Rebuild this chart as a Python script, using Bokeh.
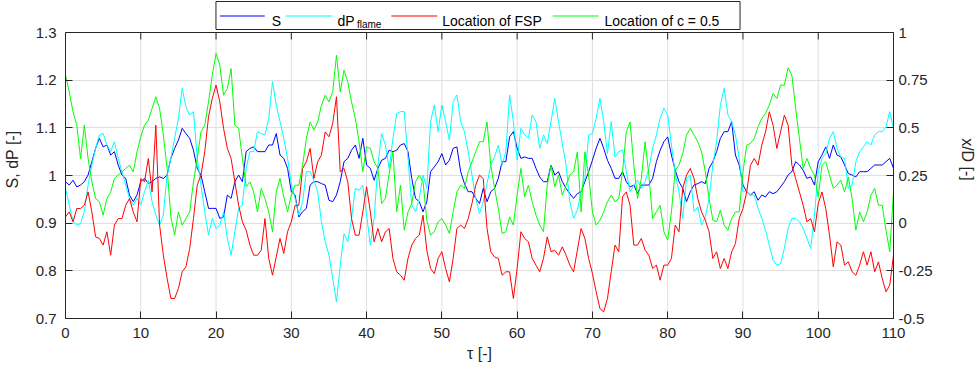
from bokeh.plotting import figure
from bokeh.models import (Range1d, LinearAxis, FixedTicker, CustomJSTickFormatter)
from bokeh.embed import file_html
from bokeh.resources import INLINE
from bokeh.core.properties import value

# ---------------- data ----------------
tau = [i * 0.5 for i in range(221)]  # tau = 0 ... 110, step 0.5

S = [0.987, 0.980, 0.990, 0.976, 0.980, 0.987, 1.001, 1.029, 1.057, 1.078,
     1.060, 1.064, 1.043, 1.050, 1.022, 1.001, 0.994, 0.959, 0.945, 0.959,
     0.987, 0.994, 0.983, 0.987, 0.994, 0.997, 0.994, 1.001, 1.036, 1.057,
     1.074, 1.099, 1.088, 1.078, 1.053, 1.015, 1.001, 0.966, 0.931, 0.931,
     0.931, 0.910, 0.913, 0.959, 0.952, 0.987, 1.001, 0.987, 1.050, 1.057,
     1.060, 1.050, 1.050, 1.050, 1.064, 1.064, 1.088, 1.043, 1.036, 1.015,
     0.966, 0.959, 0.913, 0.924, 0.931, 0.980, 0.987, 0.987, 0.983, 0.980,
     0.948, 0.945, 0.959, 0.987, 1.029, 1.036, 1.053, 1.064, 1.036, 1.078,
     1.022, 1.015, 0.990, 1.015, 1.032, 1.036, 1.053, 1.050, 1.053, 1.064,
     1.067, 1.050, 0.994, 0.952, 0.945, 0.924, 0.945, 1.008, 1.018, 1.029,
     1.046, 1.022, 1.032, 1.057, 1.060, 1.008, 0.983, 0.966, 0.966, 0.952,
     0.941, 0.973, 0.945, 0.966, 0.973, 0.994, 1.029, 1.029, 1.081, 1.092,
     1.057, 1.036, 1.039, 1.036, 1.036, 1.015, 0.997, 0.987, 0.987, 1.022,
     1.001, 1.008, 0.987, 0.973, 0.962, 0.952, 0.962, 0.966, 0.987, 1.008,
     1.032, 1.057, 1.078, 1.057, 1.032, 1.015, 0.994, 0.994, 1.008, 0.987,
     0.976, 0.980, 0.962, 0.980, 0.980, 0.980, 0.994, 1.029, 1.053, 1.071,
     1.081, 1.043, 1.011, 0.987, 0.973, 0.945, 0.966, 0.980, 0.983, 0.987,
     0.983, 1.015, 1.029, 1.050, 1.078, 1.092, 1.092, 1.113, 1.043, 1.022,
     0.980, 0.966, 0.959, 0.966, 0.948, 0.959, 0.955, 0.966, 0.962, 0.966,
     0.976, 0.987, 1.001, 1.008, 1.029, 1.022, 1.011, 0.994, 0.997, 0.980,
     1.029, 1.043, 1.060, 1.036, 1.064, 1.043, 1.039, 1.022, 1.004, 1.001,
     0.997, 1.008, 1.008, 1.008, 1.015, 1.022, 1.022, 1.022, 1.029, 1.036,
     1.015]

dP_flame = [0.973, 0.938, 0.903, 0.896, 0.899, 0.924, 0.980, 1.022, 1.057, 1.085,
            1.088, 1.064, 1.050, 1.071, 1.036, 1.008, 0.980, 0.952, 0.938, 0.952,
            0.938, 0.966, 0.990, 0.945, 0.917, 0.896, 0.917, 1.001, 1.036, 1.078,
            1.120, 1.183, 1.144, 1.127, 1.134, 1.036, 0.980, 0.924, 0.875, 0.910,
            0.889, 0.896, 0.924, 0.868, 0.833, 0.882, 0.931, 0.938, 1.015, 1.050,
            1.050, 1.092, 1.088, 1.085, 1.120, 1.197, 1.148, 1.113, 1.078, 1.036,
            0.983, 0.952, 0.917, 0.945, 1.008, 1.008, 0.990, 0.966, 0.903, 0.861,
            0.833, 0.784, 0.735, 0.812, 0.878, 0.861, 0.910, 0.973, 0.969, 0.980,
            0.917, 0.854, 0.910, 1.022, 1.088, 1.064, 1.015, 1.078, 1.130, 1.134,
            1.134, 1.036, 0.938, 0.924, 0.952, 1.001, 0.973, 1.113, 1.148, 1.092,
            1.148, 1.113, 1.074, 1.155, 1.169, 1.113, 1.092, 1.050, 1.001, 0.952,
            0.920, 0.945, 0.983, 1.022, 1.039, 1.064, 1.022, 1.050, 1.169, 1.113,
            1.032, 1.099, 1.085, 1.078, 1.127, 1.113, 1.057, 1.085, 1.067, 1.113,
            1.162, 1.113, 1.067, 1.022, 0.945, 0.910, 0.927, 0.966, 0.994, 1.085,
            1.088, 1.120, 1.162, 1.113, 1.046, 1.113, 1.039, 1.050, 1.053, 1.008,
            0.966, 0.980, 0.990, 0.973, 0.987, 1.015, 1.057, 1.085, 1.120, 1.141,
            1.127, 1.064, 1.004, 0.966, 0.910, 0.994, 1.001, 0.924, 0.934, 0.896,
            0.913, 0.952, 1.022, 1.071, 1.148, 1.183, 1.127, 1.113, 1.085, 1.036,
            0.966, 0.966, 0.959, 0.959, 0.931, 0.910, 0.885, 0.854, 0.822, 0.812,
            0.815, 0.847, 0.889, 0.910, 0.910, 0.903, 0.889, 0.868, 0.847, 0.917,
            1.008, 1.036, 1.046, 1.078, 1.092, 1.057, 1.039, 1.036, 0.973, 0.980,
            1.029, 1.050, 1.060, 1.071, 1.064, 1.085, 1.092, 1.092, 1.102, 1.134,
            1.099]

loc_fsp = [0.033, 0.059, 0.007, 0.077, 0.077, 0.094, 0.164, 0.059, -0.072, -0.080,
           -0.115, -0.045, -0.168, -0.010, 0.024, 0.024, 0.094, 0.129, 0.059, 0.007,
           0.234, 0.217, 0.339, 0.164, 0.514, -0.010, -0.168, -0.290, -0.395, -0.395,
           -0.343, -0.255, -0.229, -0.133, 0.024, 0.199, 0.252, 0.374, 0.558, 0.654,
           0.724, 0.636, 0.497, 0.392, 0.339, 0.217, 0.094, 0.007, -0.037, -0.115,
           -0.168, -0.168, -0.142, 0.024, -0.185, -0.273, -0.177, -0.080, -0.159, -0.045,
           0.007, 0.094, 0.094, 0.287, 0.322, 0.392, 0.234, 0.322, 0.357, 0.479,
           0.453, 0.523, 0.663, 0.269, 0.287, 0.217, 0.024, -0.063, -0.063, 0.059,
           0.191, 0.059, -0.098, -0.028, -0.098, -0.045, -0.028, -0.185, -0.255, -0.273,
           -0.299, -0.185, -0.115, -0.080, -0.063, 0.042, -0.142, -0.238, -0.264, -0.185,
           -0.150, -0.238, -0.308, -0.185, -0.028, -0.010, -0.028, 0.024, 0.103, 0.199,
           0.252, 0.234, -0.028, -0.150, -0.177, -0.185, -0.273, -0.255, -0.255, -0.395,
           -0.238, -0.045, -0.080, -0.098, -0.185, -0.220, -0.255, -0.185, -0.072, -0.150,
           -0.142, -0.168, -0.124, -0.168, -0.220, -0.255, -0.142, -0.028, -0.080, -0.185,
           -0.264, -0.360, -0.448, -0.465, -0.395, -0.255, -0.115, -0.150, 0.138, 0.164,
           0.094, -0.115, -0.115, -0.080, -0.142, -0.168, -0.238, -0.220, -0.299, -0.220,
           -0.220, -0.185, -0.010, -0.045, 0.182, 0.252, 0.287, 0.234, 0.129, 0.059,
           0.016, -0.045, -0.185, -0.150, -0.238, -0.185, -0.238, -0.150, -0.107, 0.024,
           0.077, 0.164, 0.304, 0.339, 0.304, 0.409, 0.479, 0.584, 0.514, 0.392,
           0.479, 0.566, 0.514, 0.304, 0.234, 0.164, 0.094, 0.007, 0.024, -0.045,
           0.103, 0.164, 0.077, -0.063, -0.229, -0.098, -0.115, -0.220, -0.203, -0.255,
           -0.273, -0.220, -0.150, -0.220, -0.150, -0.255, -0.203, -0.290, -0.360, -0.325,
           -0.168]

loc_c05 = [0.776, 0.689, 0.584, 0.514, 0.339, 0.514, 0.339, 0.217, 0.129, 0.112,
           0.042, 0.129, 0.164, 0.234, 0.252, 0.269, 0.287, 0.304, 0.269, 0.374,
           0.453, 0.514, 0.540, 0.601, 0.663, 0.601, 0.462, 0.287, 0.033, -0.063,
           0.059, -0.010, 0.024, 0.059, 0.217, 0.339, 0.479, 0.514, 0.636, 0.776,
           0.890, 0.829, 0.671, 0.706, 0.811, 0.514, 0.497, 0.339, 0.191, 0.217,
           0.164, 0.059, 0.182, 0.129, 0.059, -0.045, 0.164, 0.234, 0.138, 0.059,
           0.147, 0.199, 0.199, 0.304, 0.444, 0.531, 0.488, 0.531, 0.619, 0.671,
           0.636, 0.689, 0.881, 0.689, 0.802, 0.741, 0.636, 0.549, 0.427, 0.269,
           0.400, 0.392, 0.322, 0.287, 0.103, 0.129, 0.260, 0.374, 0.059, 0.199,
           -0.037, 0.059, 0.103, 0.217, 0.252, 0.217, 0.016, -0.063, -0.045, 0.007,
           0.024, -0.010, -0.054, 0.059, 0.164, 0.199, 0.182, 0.269, 0.322, 0.374,
           0.427, 0.427, 0.531, 0.304, 0.182, 0.077, -0.054, -0.045, 0.033, -0.010,
           0.147, 0.287, 0.138, 0.199, 0.112, 0.042, -0.010, -0.045, 0.199, 0.304,
           0.191, 0.252, 0.147, 0.199, 0.252, 0.269, 0.374, 0.059, 0.374, 0.252,
           0.059, -0.010, 0.016, 0.059, 0.112, 0.147, 0.112, 0.129, 0.269, 0.479,
           0.531, 0.304, 0.129, 0.234, 0.427, 0.252, 0.024, 0.059, 0.094, -0.045,
           -0.089, 0.059, 0.278, 0.304, 0.365, 0.462, 0.497, 0.462, 0.427, 0.374,
           0.269, 0.129, 0.016, 0.007, 0.068, -0.010, -0.037, 0.024, 0.059, 0.059,
           0.269, 0.409, 0.418, 0.444, 0.505, 0.549, 0.575, 0.619, 0.680, 0.654,
           0.724, 0.724, 0.815, 0.776, 0.601, 0.444, 0.287, 0.339, 0.287, 0.252,
           0.138, 0.304, 0.322, 0.252, 0.182, 0.199, 0.226, 0.164, 0.243, 0.129,
           -0.037, 0.059, 0.007, 0.059, 0.147, 0.182, 0.094, 0.094, -0.037, -0.150,
           0.164]

x_ticks = [0, 10, 20, 30, 40, 50, 60, 70, 80, 90, 100, 110]
left_ticks = [0.7, 0.8, 0.9, 1.0, 1.1, 1.2, 1.3]
left_tick_labels = ["0.7", "0.8", "0.9", "1", "1.1", "1.2", "1.3"]
right_ticks = [-0.5, -0.25, 0.0, 0.25, 0.5, 0.75, 1.0]
right_tick_labels = ["-0.5", "-0.25", "0", "0.25", "0.5", "0.75", "1"]

legend_names = ["S", "dP", "Location of FSP", "Location of c = 0.5"]
legend_sub = "flame"
colors = ["#0000ff", "#00ffff", "#ff0000", "#00ff00"]

FONT = "Liberation Sans"
AX = "#262626"
GRID = "#dfdfdf"

# ---------------- layout constants (pixels) ----------------
W, H = 978, 371
FL, FR, FT, FB = 62, 893, 32, 318          # axes box edges
X0, X1 = 0.0, 110.0
Y0, Y1 = 0.7, 1.3
R0, R1 = -0.5, 1.0

def px_x(px):
    return X0 + (px - FL) * (X1 - X0) / (FR - FL)

def px_y(py):
    return Y1 - (py - FT) * (Y1 - Y0) / (FB - FT)

# the frame reaches the top of the page so that the legend can be drawn in it
Y_TOP = px_y(0)
R_TOP = R0 + (Y_TOP - Y0) * (R1 - R0) / (Y1 - Y0)

label_js = ("for (let i = 0; i < tv.length; i++) {"
            " if (Math.abs(tv[i] - tick) < 1e-9) return tl[i]; }"
            " return '';")

p = figure(width=W, height=H, output_backend="svg", toolbar_location=None,
           x_range=Range1d(X0, X1), y_range=Range1d(Y0, Y_TOP),
           min_border_left=FL, min_border_right=W - FR, min_border_top=0,
           min_border_bottom=H - FB, background_fill_color="white",
           border_fill_color="white")
p.extra_y_ranges = {"right": Range1d(R0, R_TOP)}
p.outline_line_color = None

def style_axis(ax, size="15px"):
    ax.axis_line_color = AX
    ax.major_tick_line_color = AX
    ax.major_tick_in = 7
    ax.major_tick_out = 0
    ax.minor_tick_line_color = None
    ax.major_label_text_font = FONT
    ax.major_label_text_font_size = size
    ax.major_label_text_color = AX
    ax.axis_label_text_font = FONT
    ax.axis_label_text_font_size = "16px"
    ax.axis_label_text_font_style = "normal"
    ax.axis_label_text_color = AX

xa = p.xaxis[0]
style_axis(xa)
xa.ticker = FixedTicker(ticks=x_ticks)
xa.axis_label = "\u03c4 [-]"
xa.major_label_standoff = 9
xa.axis_label_standoff = 4

ya = p.yaxis[0]
style_axis(ya)
ya.bounds = (Y0, Y1)
ya.ticker = FixedTicker(ticks=left_ticks)
ya.formatter = CustomJSTickFormatter(args=dict(tv=left_ticks, tl=left_tick_labels), code=label_js)
ya.axis_label = "S, dP [-]"
ya.major_label_standoff = 9
ya.axis_label_standoff = 12

ra = LinearAxis(y_range_name="right")
style_axis(ra)
ra.bounds = (R0, R1)
ra.ticker = FixedTicker(ticks=right_ticks)
ra.formatter = CustomJSTickFormatter(args=dict(tv=right_ticks, tl=right_tick_labels), code=label_js)
ra.major_label_standoff = 5
ra.axis_label = "x/D [-]"
ra.axis_label_standoff = 23
p.add_layout(ra, "right")

p.xgrid.visible = False
p.ygrid.ticker = FixedTicker(ticks=left_ticks)
p.ygrid.grid_line_color = GRID

n = len(x_ticks)
# vertical grid lines, limited to the axes box
p.segment(x0=x_ticks, x1=x_ticks, y0=[Y0] * n, y1=[Y1] * n, line_color=GRID, line_width=1)
# top edge of the box and its inward ticks
tick_len = 7 * (Y1 - Y0) / (FB - FT)
p.segment(x0=[X0], x1=[X1], y0=[Y1], y1=[Y1], line_color=AX, line_width=1)
p.segment(x0=x_ticks, x1=x_ticks, y0=[Y1] * n, y1=[Y1 - tick_len] * n, line_color=AX, line_width=1)

p.line(tau, S, line_color=colors[0], line_width=1)
p.line(tau, dP_flame, line_color=colors[1], line_width=1)
p.line(tau, loc_fsp, line_color=colors[2], line_width=1, y_range_name="right")
p.line(tau, loc_c05, line_color=colors[3], line_width=1, y_range_name="right")

# ---------------- legend (above the axes box) ----------------
p.quad(left=[px_x(213)], right=[px_x(739)], top=[px_y(1)], bottom=[px_y(29)],
       fill_color="white", line_color=AX, line_width=1)
line_x0 = [217, 283, 389, 551]
line_x1 = [262, 330, 435, 597]
text_x = [269, 335, 440, 603]
for c, a, b in zip(colors, line_x0, line_x1):
    p.segment(x0=[px_x(a)], x1=[px_x(b)], y0=[px_y(15.5)], y1=[px_y(15.5)],
              line_color=c, line_width=1.2)
p.text(x=[px_x(v) for v in text_x], y=[px_y(20)] * 4, text=legend_names,
       text_font=value(FONT), text_font_size="14px", text_color="black",
       text_baseline="alphabetic")
p.text(x=[px_x(354.5)], y=[px_y(24)], text=[legend_sub], text_font=value(FONT),
       text_font_size="10px", text_color="black", text_baseline="alphabetic")

open("out.html", "w").write(file_html(p, INLINE))
